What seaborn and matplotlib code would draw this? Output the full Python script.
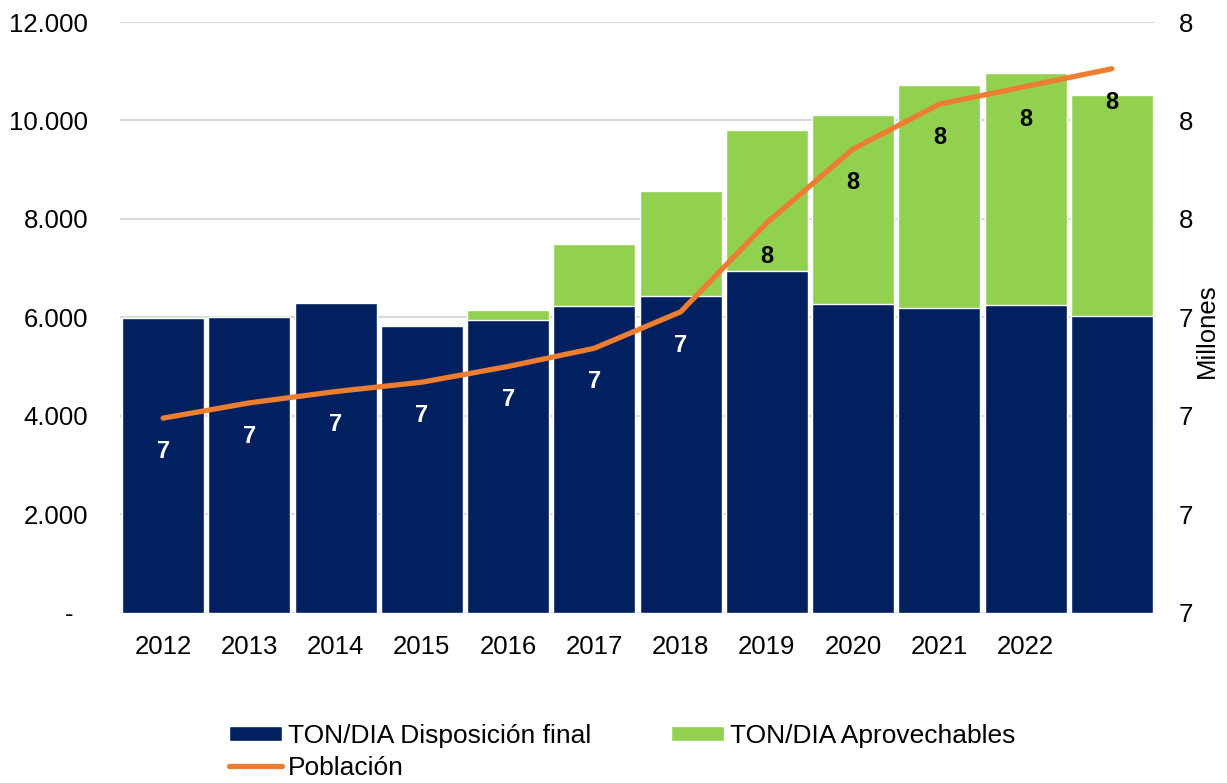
import numpy as np
import pandas as pd
import seaborn as sns
import matplotlib.pyplot as plt
import matplotlib.ticker as mtick

# Data
years = ['2012', '2013', '2014', '2015', '2016', '2017', '2018', '2019', '2020', '2021', '2022', '']
disposicion = [5990, 6000, 6290, 5820, 5935, 6235, 6430, 6930, 6260, 6190, 6240, 6030]
aprovechables = [0, 0, 0, 0, 215, 1255, 2135, 2885, 3845, 4520, 4715, 4495]
poblacion = [7.195, 7.226, 7.249, 7.268, 7.300, 7.337, 7.411, 7.592, 7.742, 7.833, 7.869, 7.905]  # millones

navy = '#002060'
green = '#92D050'
orange = '#ED7D31'

df = pd.DataFrame({'idx': range(len(years)), 'year': years,
                   'disp': disposicion, 'aprov': aprovechables, 'pob': poblacion})
df['total'] = df['disp'] + df['aprov']

sns.set_theme(style="white")
plt.rcParams['font.family'] = ['Liberation Sans', 'DejaVu Sans']

fig = plt.figure(figsize=(12.27, 7.83), dpi=100)
ax = fig.add_axes([120 / 1227, 1 - 612.5 / 783, 1035 / 1227, 590.5 / 783])

# stacked bars: total first (green), then navy on top of it
sns.barplot(data=df, x='idx', y='total', color=green, saturation=1, width=0.95,
            errorbar=None, ax=ax, label='TON/DIA Aprovechables', zorder=2)
sns.barplot(data=df, x='idx', y='disp', color=navy, saturation=1, width=0.95,
            errorbar=None, ax=ax, label='TON/DIA Disposición final', zorder=3)
if ax.get_legend() is not None:
    ax.get_legend().remove()

ax.set_ylim(0, 12000)
ax.set_xlim(-0.5, len(years) - 0.5)
ax.set_yticks(np.arange(0, 12001, 2000))
ax.yaxis.set_major_formatter(mtick.FuncFormatter(
    lambda v, p: '-  ' if v == 0 else f'{int(v):,}'.replace(',', '.')))
ax.set_xticks(range(len(years)))
ax.set_xticklabels(years)
ax.set_xlabel('')
ax.set_ylabel('')
ax.grid(axis='y', color='#D9D9D9', lw=1.5, zorder=0)
ax.set_axisbelow(True)
ax.tick_params(axis='y', length=0, pad=23, labelsize=18.5, labelcolor='black')
ax.tick_params(axis='x', length=0, pad=16.5, labelsize=18.5, labelcolor='black')
for s in ax.spines.values():
    s.set_visible(False)

# population line on the right axis
ax2 = ax.twinx()
sns.lineplot(data=df, x='idx', y='pob', color=orange, lw=3.8, ax=ax2,
             label='Población', solid_capstyle='round', legend=False)
ax2.set_ylim(6.8, 8.0)
ax2.set_yticks(np.arange(6.8, 8.001, 0.2))
ax2.yaxis.set_major_formatter(mtick.FuncFormatter(lambda v, p: f'{v:.0f}'))
ax2.tick_params(axis='y', length=0, pad=17, labelsize=18.5, labelcolor='black')
ax2.set_ylabel('')
ax2.set_xlabel('')
for s in ax2.spines.values():
    s.set_visible(False)
fig.text(1207 / 1227, 1 - 331 / 783, 'Millones', rotation=90, ha='center', va='center',
         fontsize=18.5, color='black')

# data labels below each point
for i, v in enumerate(poblacion):
    c = 'white' if round(v) == 7 else 'black'
    ax2.annotate(f'{v:.0f}', (i, v), xytext=(0, -24), textcoords='offset points',
                 ha='center', va='center', fontsize=17, fontweight='bold', color=c)

# legend at the bottom
h1, l1 = ax.get_legend_handles_labels()
h2, l2 = ax2.get_legend_handles_labels()
hd = dict(zip(l1 + l2, h1 + h2))
order = ['TON/DIA Disposición final', 'Población', 'TON/DIA Aprovechables']
fig.legend([hd[k] for k in order], order, ncol=2, frameon=False,
           loc='upper left', bbox_to_anchor=(229 / 1227, 1 - 724 / 783),
           fontsize=19, labelcolor='black', borderpad=0, borderaxespad=0, handlelength=2.0,
           handleheight=0.5, handletextpad=0.25, columnspacing=3.0, labelspacing=0.3)

fig.savefig('out.png', dpi=100)
